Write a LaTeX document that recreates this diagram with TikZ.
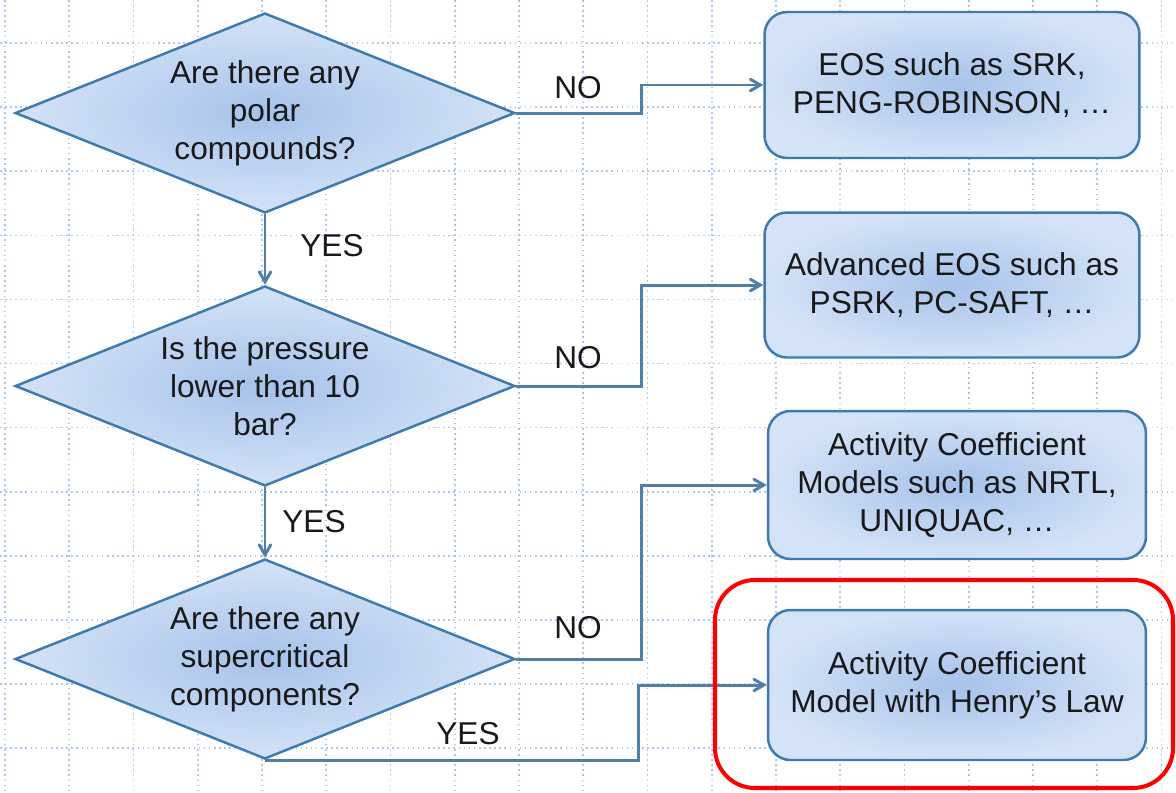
\documentclass[tikz,border=0pt]{standalone}
\usepackage{fontspec}
\setmainfont{Liberation Sans}
\usetikzlibrary{arrows,shapes.geometric}

\definecolor{gridblue}{RGB}{175,195,245}
\definecolor{shapeedge}{RGB}{60,122,176}
\definecolor{shapeinner}{RGB}{166,194,234}
\definecolor{shapeouter}{RGB}{212,227,247}
\definecolor{linkblue}{RGB}{80,128,170}
\definecolor{labelgray}{RGB}{25,25,25}

\tikzset{
  decision/.style={diamond, aspect=2.5, draw=shapeedge, line width=1.4pt,
    inner color=shapeinner, outer color=shapeouter, inner sep=0pt,
    minimum width=10cm, minimum height=4cm, align=center,
    font=\fontsize{18}{21.6}\selectfont, text=labelgray},
  model/.style={rectangle, rounded corners=0.45cm, draw=shapeedge, line width=1.4pt,
    inner color=shapeinner, outer color=shapeouter, inner sep=0pt,
    align=center, font=\fontsize{18}{21.6}\selectfont, text=labelgray},
  link/.style={draw=linkblue, line width=1.7pt, ->, >=angle 60},
  answer/.style={font=\fontsize{18}{21.6}\selectfont, text=labelgray}
}

\begin{document}
\begin{tikzpicture}[x=0.02cm,y=-0.02cm]
\useasboundingbox (0,0) rectangle (1176,792);

% background grid
\foreach \i in {0,1,...,18}
{
\draw[gridblue, line width=0.9pt, dotted] ({5+64.25*\i},0) -- ({5+64.25*\i},792);
}
\foreach \j in {0,1,...,11}
{
\draw[gridblue, line width=0.9pt, dotted] (0,{43+64.1*\j}) -- (1176,{43+64.1*\j});
}

% questions
\node[decision] (d1) at (265,113) {Are there any\\polar\\compounds?};
\node[decision] (d2) at (265,386) {Is the pressure\\lower than 10\\bar?};
\node[decision] (d3) at (265,659) {Are there any\\supercritical\\components?};

% models
\node[model, minimum width=7.5cm, minimum height=2.92cm] (b1) at (952,85)
  {EOS such as SRK,\\PENG-ROBINSON, …};
\node[model, minimum width=7.5cm, minimum height=2.9cm] (b2) at (952,285)
  {Advanced EOS such as\\PSRK, PC-SAFT, …};
\node[model, minimum width=7.56cm, minimum height=2.96cm] (b3) at (957,485)
  {Activity Coefficient\\Models such as NRTL,\\UNIQUAC, …};
\node[model, minimum width=7.56cm, minimum height=3cm] (b4) at (957,685)
  {Activity Coefficient\\Model with Henry’s Law};

% answers
\node[answer] (yes1) at (332,246) {YES};
\node[answer] (yes2) at (314,522) {YES};
\node[answer] (yes3) at (468,734) {YES};
\node[answer] (no1) at (578,88) {NO};
\node[answer] (no2) at (578,358) {NO};
\node[answer] (no3) at (578,628) {NO};

% connectors
\draw[link] (d1.south) -- (d2.north);
\draw[link] (d2.south) -- (d3.north);
\draw[link] (d1.east) -- ++(125,0) |- (b1.west);
\draw[link] (d2.east) -- ++(125,0) |- (b2.west);
\draw[link] (d3.east) -- ++(125,0) |- (b3.west);
\draw[link] (d3.south) -- ++(373,0) |- (b4.west);

% highlight
\draw[red, line width=2.3pt, rounded corners=0.8cm] (715,580) rectangle (1173,788);
\end{tikzpicture}
\end{document}
